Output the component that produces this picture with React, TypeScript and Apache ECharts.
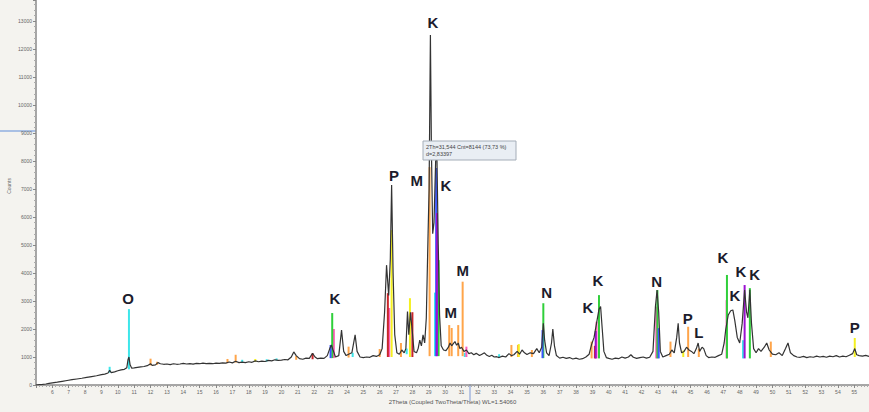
import React, { useEffect, useRef } from "react";
import * as echarts from "echarts";

// Diffractogram: [2theta, counts]
const pattern: [number, number][] = [
  [5.0, 0], [5.2, 10], [5.4, 20], [5.6, 35], [5.8, 55], [6.0, 75], [6.3, 100], [6.6, 130],
  [6.9, 160], [7.2, 190], [7.5, 215], [7.8, 240], [8.1, 270], [8.4, 300], [8.7, 330], [9.0, 370],
  [9.2, 390], [9.4, 430], [9.5, 520], [9.6, 440], [9.8, 470], [10.0, 510], [10.2, 540], [10.4, 560],
  [10.55, 620], [10.62, 900], [10.68, 1000], [10.75, 720], [10.85, 600], [11.0, 610], [11.2, 630],
  [11.4, 650], [11.6, 660], [11.8, 690], [12.0, 760], [12.1, 700], [12.3, 720], [12.45, 800],
  [12.6, 760], [12.8, 740], [13.0, 750], [13.2, 730], [13.4, 760], [13.6, 740], [13.8, 750],
  [14.0, 770], [14.2, 750], [14.4, 760], [14.6, 745], [14.8, 770], [15.0, 760], [15.2, 780],
  [15.4, 765], [15.6, 775], [15.8, 760], [16.0, 780], [16.2, 770], [16.4, 790], [16.6, 780],
  [16.8, 820], [17.0, 790], [17.2, 850], [17.4, 800], [17.6, 820], [17.8, 800], [18.0, 830],
  [18.2, 810], [18.4, 860], [18.6, 830], [18.8, 850], [19.0, 840], [19.2, 880], [19.4, 860],
  [19.6, 900], [19.8, 880], [20.0, 890], [20.2, 910], [20.4, 900], [20.6, 1000], [20.75, 1180],
  [20.9, 1050], [21.1, 940], [21.3, 920], [21.5, 960], [21.7, 950], [21.9, 1130], [22.05, 1000],
  [22.2, 940], [22.4, 960], [22.6, 950], [22.8, 1050], [22.95, 1300], [23.05, 1430], [23.15, 1250],
  [23.3, 1000], [23.5, 1050], [23.67, 1960], [23.8, 1200], [23.95, 1050], [24.1, 1100],
  [24.3, 1150], [24.5, 1790], [24.62, 1200], [24.8, 1000], [25.0, 980], [25.2, 1000], [25.4, 990],
  [25.6, 1050], [25.8, 1020], [26.0, 1080], [26.15, 1300], [26.3, 2600], [26.42, 4280],
  [26.55, 3200], [26.65, 4500], [26.73, 7140], [26.82, 4000], [26.92, 1800], [27.05, 1150],
  [27.2, 1100], [27.35, 1250], [27.5, 1150], [27.6, 1300], [27.7, 2620], [27.78, 1800],
  [27.88, 2600], [27.98, 2000], [28.1, 1200], [28.25, 1150], [28.35, 1300], [28.45, 1600],
  [28.55, 1400], [28.65, 1790], [28.75, 1500], [28.85, 2400], [28.95, 5200], [29.02, 7000],
  [29.1, 12500], [29.16, 8500], [29.24, 5400], [29.32, 5800], [29.42, 8000], [29.5, 8100],
  [29.58, 5000], [29.66, 2500], [29.76, 1400], [29.9, 1250], [30.05, 1230], [30.2, 1350],
  [30.3, 1500], [30.4, 1400], [30.5, 1480], [30.6, 1550], [30.7, 1420], [30.8, 1500], [30.9, 1300],
  [31.0, 1350], [31.15, 1200], [31.3, 1250], [31.45, 1120], [31.6, 1150], [31.75, 1080],
  [31.9, 1130], [32.1, 1050], [32.25, 1100], [32.4, 1150], [32.55, 1060], [32.7, 1020],
  [32.85, 1060], [33.0, 1000], [33.15, 1010], [33.3, 980], [33.5, 1030], [33.7, 1000],
  [33.9, 1120], [34.05, 1050], [34.2, 1080], [34.4, 1200], [34.55, 1100], [34.7, 1250],
  [34.85, 1150], [35.0, 1090], [35.2, 1150], [35.4, 1120], [35.6, 1300], [35.75, 1150],
  [35.9, 1350], [36.0, 2200], [36.08, 1600], [36.2, 1150], [36.35, 1050], [36.5, 1500],
  [36.58, 2000], [36.68, 1400], [36.8, 1050], [37.0, 960], [37.2, 990], [37.4, 950], [37.6, 980],
  [37.8, 930], [38.0, 960], [38.2, 920], [38.4, 940], [38.6, 1000], [38.8, 1100], [38.95, 1450],
  [39.1, 1700], [39.25, 2200], [39.4, 2700], [39.5, 2800], [39.6, 2000], [39.7, 1200],
  [39.85, 980], [40.0, 950], [40.2, 920], [40.4, 960], [40.6, 940], [40.8, 1000], [41.0, 960],
  [41.2, 1000], [41.35, 1080], [41.5, 990], [41.7, 950], [41.9, 980], [42.1, 1000], [42.3, 960],
  [42.5, 990], [42.7, 1200], [42.85, 2800], [42.95, 3390], [43.05, 2600], [43.15, 1200],
  [43.3, 1000], [43.5, 1050], [43.7, 1100], [43.85, 1250], [44.0, 1150], [44.15, 1700],
  [44.24, 2200], [44.32, 1500], [44.45, 1150], [44.6, 1200], [44.75, 1350], [44.9, 1250],
  [45.05, 1200], [45.2, 1120], [45.35, 1300], [45.46, 1500], [45.55, 1200], [45.7, 1350],
  [45.8, 1300], [45.95, 1050], [46.1, 980], [46.3, 1000], [46.5, 990], [46.7, 1050], [46.9, 1100],
  [47.05, 1500], [47.15, 2000], [47.3, 2500], [47.45, 2650], [47.58, 2680], [47.7, 2300],
  [47.85, 1700], [48.0, 1500], [48.15, 2200], [48.3, 3390], [48.42, 2600], [48.5, 2400],
  [48.62, 3400], [48.72, 2200], [48.85, 1300], [49.0, 1150], [49.15, 1300], [49.3, 1200],
  [49.5, 1350], [49.65, 1500], [49.8, 1250], [50.0, 1100], [50.2, 1080], [50.4, 1150],
  [50.6, 1050], [50.8, 1300], [50.95, 1500], [51.1, 1150], [51.3, 1050], [51.5, 1000],
  [51.7, 990], [51.9, 1020], [52.1, 980], [52.3, 1010], [52.5, 990], [52.7, 1030], [52.9, 1000],
  [53.1, 1020], [53.3, 990], [53.5, 1030], [53.7, 1010], [53.9, 1050], [54.1, 1000], [54.3, 1030],
  [54.5, 1010], [54.7, 1060], [54.9, 1120], [55.03, 1300], [55.15, 1080], [55.3, 1050],
  [55.5, 1030], [55.7, 1060], [55.9, 1020],
];

// Reference phase sticks: [2theta, base counts, top counts]
const cyanSticks: [number, number, number][] = [
  [9.5, 440, 650], [10.68, 560, 2710], [17.6, 820, 900], [19.1, 840, 920], [19.7, 880, 950],
  [24.35, 1000, 1150], [27.65, 1100, 1300], [29.38, 1030, 3300], [31.2, 1000, 1150],
  [33.3, 980, 1100], [48.2, 950, 1600],
];
const orangeSticks: [number, number, number][] = [
  [12.0, 700, 940], [12.4, 720, 830], [16.7, 780, 930], [17.2, 800, 1080], [20.9, 900, 1035],
  [24.1, 980, 1370], [26.0, 1000, 1285], [27.3, 1000, 1500], [29.05, 1030, 7780],
  [30.25, 1030, 2140], [30.4, 1030, 2035], [30.8, 1030, 2140], [31.07, 1030, 3690],
  [34.05, 1000, 1430], [34.45, 1000, 1430], [35.3, 1000, 1250], [38.95, 950, 1550],
  [43.77, 1000, 1550], [44.85, 1000, 2080], [45.5, 1000, 1300], [49.9, 1000, 1550],
];
const yellowSticks: [number, number, number][] = [
  [18.4, 830, 930], [26.73, 1000, 5530], [27.85, 1000, 3100], [34.5, 1000, 1460],
  [44.55, 1000, 1230], [55.03, 1000, 1680],
];
const pinkSticks: [number, number, number][] = [
  [23.2, 960, 2000], [26.58, 1000, 2750], [31.3, 1000, 1370], [39.25, 950, 2260],
  [42.9, 950, 2800], [47.2, 950, 3030],
];
const greenSticks: [number, number, number][] = [
  [23.1, 960, 2570], [29.6, 1030, 4460], [36.0, 960, 2920], [39.4, 950, 3210],
  [42.97, 950, 3390], [47.22, 950, 3930], [48.62, 950, 3460],
];
const blueSticks: [number, number, number][] = [
  [23.0, 960, 1430], [29.45, 1030, 7750], [35.95, 960, 1960], [43.05, 950, 2030],
];
const purpleSticks: [number, number, number][] = [
  [29.5, 1030, 6140], [39.2, 950, 1930], [48.3, 950, 3570],
];
const redSticks: [number, number, number][] = [
  [21.9, 920, 1130], [26.5, 1000, 3280], [28.0, 1000, 2600], [39.15, 950, 1400],
];

// Phase letters: [2theta, counts, letter]
const peakLabels: [number, number, string][] = [
  [10.62, 3100, "O"], [23.27, 3100, "K"], [26.87, 7500, "P"], [28.27, 7320, "M"],
  [29.25, 12960, "K"], [30.05, 7140, "K"], [31.08, 4100, "M"], [30.35, 2600, "M"],
  [36.2, 3320, "N"], [38.72, 2780, "K"], [39.33, 3750, "K"], [42.93, 3710, "N"],
  [44.83, 2360, "P"], [45.5, 1860, "L"], [46.97, 4570, "K"], [47.7, 3180, "K"],
  [48.07, 4070, "K"], [48.92, 3960, "K"], [55.03, 2070, "P"],
];

const stickSets = [
  { name: "cyan", color: "#3ee6ea", data: cyanSticks },
  { name: "orange", color: "#ffa54a", data: orangeSticks },
  { name: "yellow", color: "#f4f020", data: yellowSticks },
  { name: "pink", color: "#ff5cb8", data: pinkSticks },
  { name: "green", color: "#2fcf3a", data: greenSticks },
  { name: "red", color: "#c8262a", data: redSticks },
  { name: "blue", color: "#3a56ff", data: blueSticks },
  { name: "purple", color: "#9a10d0", data: purpleSticks },
];

export default function App() {
  const ref = useRef<HTMLDivElement>(null);

  useEffect(() => {
    const chart = echarts.init(ref.current!, null, { renderer: "svg" });

    const stickSeries = stickSets.map((s) => ({
      type: "custom",
      name: s.name,
      silent: true,
      clip: true,
      z: 2,
      encode: { x: 0, y: [1, 2] },
      data: s.data,
      renderItem: (_params: any, api: any) => {
        const p1 = api.coord([api.value(0), api.value(1)]);
        const p2 = api.coord([api.value(0), api.value(2)]);
        return {
          type: "line",
          shape: { x1: p1[0], y1: p1[1], x2: p2[0], y2: p2[1] },
          style: { stroke: s.color, lineWidth: 2 },
        };
      },
    }));

    // Phase letters drawn as text marks placed through the axes
    const letterSeries = {
      type: "custom",
      name: "phases",
      silent: true,
      z: 5,
      encode: { x: 0, y: 1 },
      data: peakLabels,
      renderItem: (params: any, api: any) => {
        const p = api.coord([api.value(0), api.value(1)]);
        return {
          type: "text",
          x: p[0],
          y: p[1],
          style: {
            text: peakLabels[params.dataIndex][2],
            fontSize: 15,
            fontWeight: "bold",
            fill: "#1c1c2c",
            align: "center",
            verticalAlign: "middle",
            fontFamily: "Liberation Sans, Arial, sans-serif",
          },
        };
      },
    };

    chart.setOption({
      animation: false,
      backgroundColor: "#f4f3ef",
      textStyle: { fontFamily: "Liberation Sans, Arial, sans-serif" },
      grid: {
        left: 36,
        right: 0,
        top: 0,
        bottom: 27,
        show: true,
        backgroundColor: "#ffffff",
        borderWidth: 0,
      },
      xAxis: {
        type: "value",
        min: 5,
        max: 55.9,
        interval: 1,
        name: "2Theta (Coupled TwoTheta/Theta) WL=1.54060",
        nameLocation: "middle",
        nameGap: 14,
        nameTextStyle: { fontSize: 6, color: "#555" },
        axisLine: { lineStyle: { color: "#8a8a8a", width: 1.5 } },
        axisTick: { length: 3, lineStyle: { color: "#888" } },
        minorTick: { show: true, splitNumber: 5, length: 2, lineStyle: { color: "#aaa" } },
        axisLabel: { fontSize: 5, color: "#666", margin: 4, showMinLabel: false, showMaxLabel: false },
        splitLine: { show: false },
      },
      yAxis: {
        type: "value",
        min: 0,
        max: 13750,
        interval: 1000,
        axisLine: { show: true, lineStyle: { color: "#8a8a8a", width: 1.5 } },
        axisTick: { show: true, length: 3, lineStyle: { color: "#888" } },
        minorTick: { show: true, splitNumber: 5, length: 2, lineStyle: { color: "#aaa" } },
        axisLabel: {
          fontSize: 5,
          color: "#666",
          margin: 4,
          showMaxLabel: false,
          formatter: (v: number) => String(Math.round(v)),
        },
        splitLine: { show: false },
      },
      graphic: [
        {
          type: "text",
          left: 6,
          top: 178,
          rotation: Math.PI / 2,
          style: { text: "Counts", fontSize: 5, fill: "#666" },
        },
        {
          type: "line",
          shape: { x1: 0, y1: 131, x2: 36, y2: 131 },
          style: { stroke: "#a9c0e4", lineWidth: 2 },
        },
        {
          type: "line",
          shape: { x1: 470, y1: 384, x2: 470, y2: 401 },
          style: { stroke: "#7c97d6", lineWidth: 1 },
        },
        {
          type: "rect",
          shape: { x: 423, y: 141, width: 93, height: 19 },
          style: { fill: "#e9eef4", stroke: "#a4adb8", lineWidth: 1 },
          z: 10,
        },
        {
          type: "text",
          x: 426,
          y: 143,
          z: 11,
          style: { text: "2Th=31,544 Cnt=8144 (73,73 %)\nd=2,83397", fontSize: 5.5, lineHeight: 7, fill: "#444" },
        },
      ],
      series: [
        ...stickSeries,
        {
          type: "line",
          name: "pattern",
          data: pattern,
          showSymbol: false,
          silent: true,
          z: 3,
          lineStyle: { color: "#333333", width: 1.2 },
        },
        letterSeries,
      ],
    });

    return () => chart.dispose();
  }, []);

  return (
    <div
      ref={ref}
      style={{ position: "fixed", left: 0, top: 0, width: 869, height: 412 }}
    />
  );
}
